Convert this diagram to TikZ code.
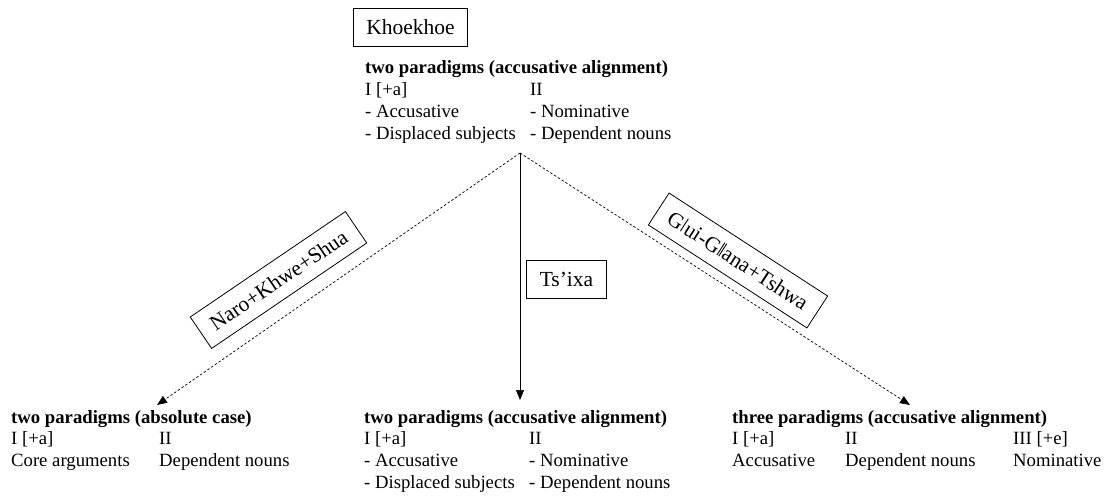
\documentclass[tikz,border=0pt]{standalone}
\usepackage{fontspec}
\setmainfont{Liberation Serif}
\usetikzlibrary{arrows.meta}
\tikzset{
  block/.style={anchor=base west, inner sep=0pt, font=\fontsize{18.7}{21.8}\selectfont},
  lang/.style={draw, line width=0.8pt, inner xsep=13pt, inner ysep=0pt, minimum height=38pt, font=\fontsize{21.5}{25}\selectfont},
  tip/.style={-{Triangle[length=10pt,width=8pt]}, line width=0.7pt},
  dashedarrow/.style={tip, dash pattern=on 2.5pt off 2pt},
}
\begin{document}
\begin{tikzpicture}[x=1pt,y=-1pt]
\useasboundingbox (0,0) rectangle (1106,500);
\node[lang] (khoekhoe) at (410.5,27.5) {Khoekhoe};
\node[block] (top) at (365,74) {\begin{tabular}[t]{@{}p{165pt}@{}l@{}}
\multicolumn{2}{@{}l@{}}{\bfseries two paradigms (accusative alignment)}\\
I [+a] & II\\
- Accusative & - Nominative\\
- Displaced subjects & - Dependent nouns
\end{tabular}};
\coordinate (apex) at (520,153);
\node[block] (left) at (11,423) {\begin{tabular}[t]{@{}p{148pt}@{}l@{}}
\multicolumn{2}{@{}l@{}}{\bfseries two paradigms (absolute case)}\\
I [+a] & II\\
Core arguments & Dependent nouns
\end{tabular}};
\node[block] (mid) at (364,423) {\begin{tabular}[t]{@{}p{165pt}@{}l@{}}
\multicolumn{2}{@{}l@{}}{\bfseries two paradigms (accusative alignment)}\\
I [+a] & II\\
- Accusative & - Nominative\\
- Displaced subjects & - Dependent nouns
\end{tabular}};
\node[block] (right) at (732,423) {\begin{tabular}[t]{@{}p{113pt}@{}p{168pt}@{}l@{}}
\multicolumn{3}{@{}l@{}}{\bfseries three paradigms (accusative alignment)}\\
I [+a] & II & III [+e]\\
Accusative & Dependent nouns & Nominative
\end{tabular}};
\coordinate (lefttip) at (157,405);
\coordinate (midtip) at (520,400);
\coordinate (righttip) at (910,405);
\draw[dashedarrow] (apex) -- (lefttip);
\draw[tip] (apex) -- (midtip);
\draw[dashedarrow] (apex) -- (righttip);
\node[lang, rotate=34.2] (naro) at (278.5,280) {Naro+Khwe+Shua};
\node[lang] (tsixa) at (566.5,279.5) {Ts’ixa};
\node[lang, rotate=-33] (gui) at (738,260.5) {Gǀui-Gǁana+Tshwa};
\end{tikzpicture}
\end{document}
